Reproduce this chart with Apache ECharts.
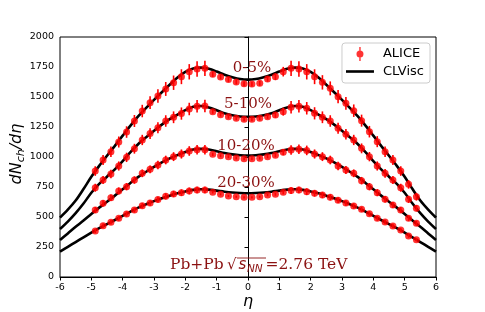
<!DOCTYPE html>
<html>
<head>
<meta charset="utf-8">
<script src="https://cdn.jsdelivr.net/npm/echarts@6/dist/echarts.min.js"></script>
<style>html,body{margin:0;padding:0;background:#fff}#c{width:485px;height:312px}</style>
</head>
<body>
<div id="c"></div>
<script>
// ALICE pseudorapidity bins
const etaData = [-4.875,-4.625,-4.375,-4.125,-3.875,-3.625,-3.375,-3.125,-2.875,-2.625,-2.375,-2.125,-1.875,-1.625,-1.375,-1.125,-0.875,-0.625,-0.375,-0.125,0.125,0.375,0.625,0.875,1.125,1.375,1.625,1.875,2.125,2.375,2.625,2.875,3.125,3.375,3.625,3.875,4.125,4.375,4.625,4.875,5.125,5.375];
// ALICE dNch/deta
const alice0_5   = [883,975,1044,1125,1208,1300,1383,1453,1508,1567,1619,1669,1710,1733,1739,1690,1667,1646,1625,1610,1608,1614,1650,1669,1711,1739,1733,1710,1669,1622,1572,1503,1447,1386,1303,1211,1128,1044,975,883,772,669];
const alice5_10  = [744,808,858,925,997,1069,1142,1195,1244,1300,1331,1362,1400,1422,1425,1378,1353,1336,1322,1314,1314,1322,1336,1350,1378,1415,1422,1406,1364,1331,1300,1239,1189,1142,1072,1003,925,864,808,744,647,572];
const alice10_20 = [558,614,661,717,753,808,864,897,933,975,1003,1025,1050,1060,1060,1022,1011,1003,992,985,985,990,1003,1015,1040,1058,1065,1055,1025,1003,975,925,892,864,803,753,703,647,600,558,489,447];
const alice20_30 = [383,428,456,489,525,558,594,617,645,672,692,703,717,725,725,706,689,675,669,664,664,669,683,689,706,720,725,711,697,683,664,640,617,592,564,528,489,458,425,392,342,311];
// ALICE uncertainties
const err0_5   = [40,42,44,46,48,50,52,54,56,58,60,62,64,64,64,22,20,20,20,20,20,20,22,28,40,64,64,64,62,60,58,56,54,52,50,48,46,44,42,40,36,32];
const err5_10  = [33,34,36,38,39,41,43,44,46,48,49,51,52,52,52,18,16,16,16,16,16,16,18,23,33,52,52,52,51,49,48,46,44,43,41,39,38,36,34,33,30,26];
const err10_20 = [25,26,27,29,30,31,32,33,35,36,37,38,40,40,40,14,12,12,12,12,12,12,14,17,25,40,40,40,38,37,36,35,33,32,31,30,29,27,26,25,22,20];
const err20_30 = [17,18,19,20,21,21,22,23,24,25,26,27,28,28,28,10,9,9,9,9,9,9,10,12,17,28,28,28,27,26,25,24,23,22,21,21,20,19,18,17,15,14];
// CLVisc curves
const etaCurve = [-6,-5.75,-5.5,-5.25,-5,-4.75,-4.5,-4.25,-4,-3.75,-3.5,-3.25,-3,-2.75,-2.5,-2.25,-2,-1.75,-1.5,-1.25,-1,-0.75,-0.5,-0.25,0,0.25,0.5,0.75,1,1.25,1.5,1.75,2,2.25,2.5,2.75,3,3.25,3.5,3.75,4,4.25,4.5,4.75,5,5.25,5.5,5.75,6];
const clv0_5   = [495,561,637,733,835,926,1010,1093,1178,1262,1340,1410,1476,1540,1602,1662,1710,1738,1745,1735,1712,1685,1665,1650,1645,1650,1665,1685,1712,1735,1745,1738,1710,1662,1602,1540,1476,1410,1340,1262,1178,1093,1010,926,835,733,637,561,495];
const clv5_10  = [400,462,532,612,702,776,836,897,966,1040,1108,1165,1218,1270,1315,1353,1390,1418,1425,1413,1390,1364,1348,1338,1335,1338,1348,1364,1390,1413,1425,1418,1390,1353,1315,1270,1218,1165,1108,1040,966,897,836,776,702,612,532,462,400];
const clv10_20 = [308,363,418,470,525,578,627,678,731,784,834,877,917,955,988,1016,1042,1062,1068,1062,1048,1033,1022,1015,1012,1015,1022,1033,1048,1062,1068,1062,1042,1016,988,955,917,877,834,784,731,678,627,578,525,470,418,363,308];
const clv20_30 = [211,251,291,331,370,407,441,475,510,545,578,606,632,656,678,697,713,726,731,728,720,711,704,700,698,700,704,711,720,728,731,726,713,697,678,656,632,606,578,545,510,475,441,407,370,331,291,251,211];
const centralityLabels = ['0-5%','5-10%','10-20%','20-30%'];
const xTicks = {min:-6, max:6, interval:1};
const yTicks = {min:0, max:2000, interval:250};

const alice = [alice0_5, alice5_10, alice10_20, alice20_30];
const errs = [err0_5, err5_10, err10_20, err20_30];
const clv = [clv0_5, clv5_10, clv10_20, clv20_30];

const chart = echarts.init(document.getElementById('c'), null, {renderer:'canvas'});
const series = [];
clv.forEach(function(c){
  series.push({
    name:'CLVisc', type:'line', data: etaCurve.map(function(e,i){return [e,c[i]];}),
    symbol:'none', smooth:0.3, color:'#000',
    lineStyle:{color:'#000', width:2.6}, z:2, silent:true
  });
});
alice.forEach(function(a,k){
  series.push({
    name:'ALICE_err', type:'custom', z:3, silent:true,
    data: etaData.map(function(e,i){return [e,a[i],errs[k][i]];}),
    renderItem: function(params, api){
      const x = api.value(0), y = api.value(1), d = api.value(2);
      const p1 = api.coord([x, y-d]), p2 = api.coord([x, y+d]);
      return {type:'line', shape:{x1:p1[0],y1:p1[1],x2:p2[0],y2:p2[1]}, style:{stroke:'#ff0000', lineWidth:1.6}};
    }
  });
});
alice.forEach(function(a){
  series.push({
    name:'ALICE', type:'scatter', data: etaData.map(function(e,i){return [e,a[i]];}),
    symbol:'circle', symbolSize:7, color:'#ff0000', itemStyle:{color:'#ff0000'}, z:4, silent:true
  });
});

const red = '#8b1111';
const axisFont = 'DejaVu Sans';
chart.setOption({
  animation:false,
  backgroundColor:'#fff',
  grid:{left:60, right:49, top:37, bottom:35, show:true, borderColor:'#000', borderWidth:1},
  xAxis:{type:'value', min:xTicks.min, max:xTicks.max, interval:xTicks.interval,
    axisLine:{show:true, onZero:false, lineStyle:{color:'#000', width:1}},
    axisTick:{show:true, inside:false, length:3.5, lineStyle:{color:'#000'}},
    axisLabel:{color:'#000', fontSize:9.5, fontFamily:axisFont, margin:6, formatter:function(v){return String(v);}},
    splitLine:{show:false}},
  yAxis:{type:'value', min:yTicks.min, max:yTicks.max, interval:yTicks.interval,
    axisLine:{show:true, lineStyle:{color:'#000', width:1}},
    axisTick:{show:true, inside:false, length:3.5, lineStyle:{color:'#000'}},
    axisLabel:{color:'#000', fontSize:9.5, fontFamily:axisFont, margin:6, formatter:function(v){return String(v);}},
    splitLine:{show:false}},
  legend:{
    orient:'vertical', right:55, top:43, padding:[4,6,5,4], itemGap:4,
    itemWidth:28, itemHeight:14,
    backgroundColor:'rgba(255,255,255,0.85)', borderColor:'#cccccc', borderWidth:1, borderRadius:3,
    textStyle:{fontSize:13, fontFamily:axisFont, color:'#000', padding:[0,0,0,4]},
    data:[
      {name:'ALICE', icon:'path://M4.3,0 L5.7,0 L5.7,14 L4.3,14 Z M8.5,7 A3.5,3.5 0 1,1 1.5,7 A3.5,3.5 0 1,1 8.5,7 Z', itemStyle:{color:'#ff0000'}},
      {name:'CLVisc', icon:'path://M0,0 L28,0 L28,2.6 L0,2.6 Z', itemStyle:{color:'#000'}}
    ]
  },
  graphic:[
    {type:'text', x:252, y:68, style:{text:centralityLabels[0], font:'15px "DejaVu Serif"', fill:red, align:'center', verticalAlign:'middle'}, z:10},
    {type:'text', x:248, y:104, style:{text:centralityLabels[1], font:'15px "DejaVu Serif"', fill:red, align:'center', verticalAlign:'middle'}, z:10},
    {type:'text', x:246, y:146, style:{text:centralityLabels[2], font:'15px "DejaVu Serif"', fill:red, align:'center', verticalAlign:'middle'}, z:10},
    {type:'text', x:246, y:183, style:{text:centralityLabels[3], font:'15px "DejaVu Serif"', fill:red, align:'center', verticalAlign:'middle'}, z:10},
    {type:'text', x:170, y:265, style:{text:'Pb+Pb', font:'15.5px "DejaVu Serif"', fill:red, align:'left', verticalAlign:'middle'}, z:10},
    {type:'text', x:227, y:265, style:{text:'\u221A', font:'15px "DejaVu Sans"', fill:red, align:'left', verticalAlign:'middle'}, z:10},
    {type:'line', shape:{x1:237, y1:258, x2:266, y2:258}, style:{stroke:red, lineWidth:0.9}, z:10},
    {type:'text', x:238.5, y:265.5, style:{text:'s', font:'italic 15px "DejaVu Sans"', fill:red, align:'left', verticalAlign:'middle'}, z:10},
    {type:'text', x:247, y:269, style:{text:'NN', font:'italic 10.5px "DejaVu Sans"', fill:red, align:'left', verticalAlign:'middle'}, z:10},
    {type:'text', x:265.5, y:265, style:{text:'=2.76 TeV', font:'15.5px "DejaVu Serif"', fill:red, align:'left', verticalAlign:'middle'}, z:10},
    {type:'text', x:248, y:302, style:{text:'\u03B7', font:'italic 16px "DejaVu Sans"', fill:'#000', align:'center', verticalAlign:'middle'}, z:10},
    {type:'group', x:17, y:154, rotation:Math.PI/2, z:10, children:[
      {type:'text', x:-30.4, y:0, style:{text:'dN', font:'italic 16px "DejaVu Sans"', fill:'#000', align:'left', verticalAlign:'middle'}},
      {type:'text', x:-8.3, y:4, style:{text:'ch', font:'italic 11px "DejaVu Sans"', fill:'#000', align:'left', verticalAlign:'middle'}},
      {type:'text', x:4.7, y:0, style:{text:'/d\u03B7', font:'italic 16px "DejaVu Sans"', fill:'#000', align:'left', verticalAlign:'middle'}}
    ]}
  ],
  series:series
});
</script>
</body>
</html>
